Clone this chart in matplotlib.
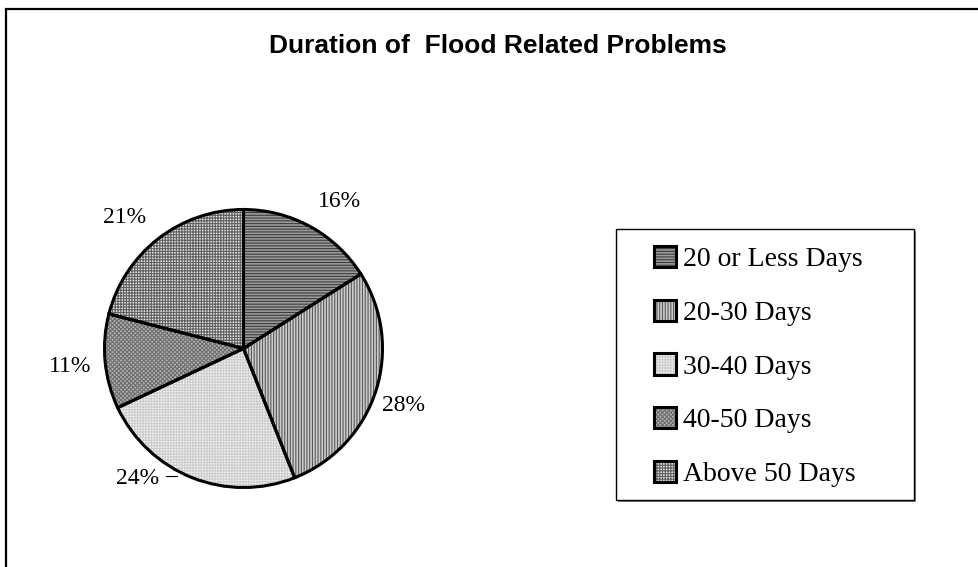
import matplotlib
matplotlib.use("Agg")
import numpy as np
import matplotlib.pyplot as plt
from matplotlib.patches import Patch, Rectangle
from matplotlib.legend_handler import HandlerTuple

# ---- data -------------------------------------------------------------
categories = ["20 or Less Days", "20-30 Days", "30-40 Days", "40-50 Days", "Above 50 Days"]
shares = [16, 28, 24, 11, 21]
title = "Duration of  Flood Related Problems"

# ---- styling per slice ------------------------------------------------
face_colors = ["#9a9a9a", "#cccccc", "#f4f4f4", "#b4b4b4", "#e2e2e2"]
hatch_colors = ["#3c3c3c", "#5a5a5a", "#cccccc", "#6e6e6e", "#606060"]
hatches = ["-" * 6, "|" * 6, "+" * 6, "x" * 8, "+" * 6]
# (radial distance, angular nudge in degrees) for each percentage label
label_layout = [(1.27, -4), (1.22, -1), (1.20, -18), (1.25, 0), (1.28, 4)]

plt.rcParams["hatch.linewidth"] = 0.8
serif = ["Liberation Serif", "DejaVu Serif"]

W, H = 979, 567
fig = plt.figure(figsize=(W / 100, H / 100), dpi=100)
fig.patch.set_facecolor("white")

# outer frame (open to the right and bottom)
fig.add_artist(Rectangle((6.5 / W, -0.2), 2.0, (H - 9) / H + 0.2,
                         transform=fig.transFigure, fill=False,
                         edgecolor="black", linewidth=1.6, clip_on=False))

fig.text(498 / W, 1 - 46 / H, title, ha="center", va="center",
         fontsize=19, fontweight="bold", family=["Liberation Sans", "DejaVu Sans"])

# pie axes: center (243.5, 348.5) px, radius 139 px
R = 139
cx, cy = 243.5, 348.5
half = 1.5 * R
ax = fig.add_axes([(cx - half) / W, (H - cy - half) / H, 2 * half / W, 2 * half / H])

wedges, _ = ax.pie(shares, startangle=90, counterclock=False,
                   colors=face_colors, radius=1.0,
                   wedgeprops=dict(linewidth=0))
for w, h, hc in zip(wedges, hatches, hatch_colors):
    w.set_hatch(h)
    w.set_edgecolor(hc)

ax.pie(shares, startangle=90, counterclock=False, radius=1.0,
       wedgeprops=dict(facecolor="none", edgecolor="black", linewidth=2.2))

ax.set_xlim(-1.5, 1.5)
ax.set_ylim(-1.5, 1.5)
ax.set_aspect("equal")
ax.axis("off")

# percentage labels
for w, v, (dist, nudge) in zip(wedges, shares, label_layout):
    mid = np.deg2rad((w.theta1 + w.theta2) / 2 + nudge)
    x, y = dist * np.cos(mid), dist * np.sin(mid)
    ax.text(x, y - 0.012, f"{v}%", ha="center", va="center", fontsize=17, family=serif,
            clip_on=False)
    if dist < 1.21:
        # short leader line for the label sitting away from its slice
        ax.plot([x + 0.21, x + 0.29], [y + 0.005, y + 0.005], color="black",
                linewidth=0.8, clip_on=False)

# legend frame
lx0, ly0, lx1, ly1 = 616, 229, 914, 500
fig.add_artist(Rectangle(((lx0 + 2) / W, (H - ly1 - 2) / H), (lx1 - lx0) / W, (ly1 - ly0) / H,
                         transform=fig.transFigure, facecolor="#808080",
                         edgecolor="none", zorder=4))
fig.add_artist(Rectangle((lx0 / W, (H - ly1) / H), (lx1 - lx0) / W, (ly1 - ly0) / H,
                         transform=fig.transFigure, facecolor="white",
                         edgecolor="black", linewidth=1.0, zorder=5))

handles = []
for fc, h, hc in zip(face_colors, hatches, hatch_colors):
    fill = Patch(facecolor=fc, hatch=h, edgecolor=hc, linewidth=0)
    edge = Patch(facecolor="none", edgecolor="black", linewidth=2.2)
    handles.append((fill, edge))

leg = fig.legend(handles, categories, loc="upper left",
                 bbox_to_anchor=(654 / W, 1 - 246 / H),
                 frameon=False, prop={"family": serif, "size": 20},
                 handlelength=0.8, handleheight=0.8, handletextpad=0.25,
                 labelspacing=0.985, borderpad=0, borderaxespad=0,
                 handler_map={tuple: HandlerTuple(ndivide=1)})
leg.set_zorder(6)

fig.savefig("out.png", dpi=100, facecolor="white")
